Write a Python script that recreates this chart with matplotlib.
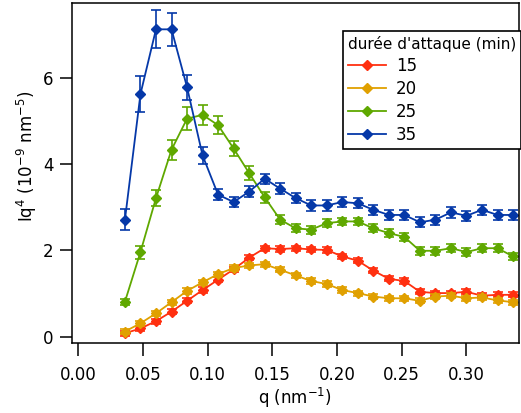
import matplotlib
matplotlib.use("Agg")
import matplotlib.pyplot as plt

plt.rcParams.update({
    "font.family": "DejaVu Sans",
    "font.size": 12,
    "mathtext.default": "regular",
})

# q values (nm^-1)
q = [0.036, 0.048, 0.060, 0.072, 0.084, 0.096, 0.108, 0.120, 0.132, 0.144,
     0.156, 0.168, 0.180, 0.192, 0.204, 0.216, 0.228, 0.240, 0.252, 0.264,
     0.276, 0.288, 0.300, 0.312, 0.324, 0.336]

# Iq^4 (10^-9 nm^-5) for each etching time
iq4_15 = [0.08, 0.19, 0.36, 0.58, 0.83, 1.08, 1.32, 1.56, 1.83, 2.05,
          2.03, 2.05, 2.02, 2.01, 1.86, 1.76, 1.53, 1.34, 1.29, 1.04,
          1.01, 1.01, 1.04, 0.95, 0.97, 0.97]
iq4_20 = [0.12, 0.31, 0.54, 0.80, 1.06, 1.26, 1.45, 1.59, 1.65, 1.68,
          1.55, 1.42, 1.29, 1.22, 1.08, 1.01, 0.93, 0.89, 0.89, 0.83,
          0.93, 0.95, 0.89, 0.91, 0.84, 0.80]
iq4_25 = [0.81, 1.96, 3.21, 4.33, 5.05, 5.14, 4.90, 4.36, 3.79, 3.23,
          2.71, 2.51, 2.48, 2.63, 2.67, 2.67, 2.51, 2.40, 2.31, 1.99,
          1.99, 2.05, 1.96, 2.05, 2.05, 1.86]
iq4_35 = [2.71, 5.62, 7.12, 7.12, 5.78, 4.20, 3.29, 3.12, 3.36, 3.66,
          3.43, 3.21, 3.04, 3.04, 3.12, 3.09, 2.94, 2.82, 2.82, 2.65,
          2.71, 2.88, 2.80, 2.94, 2.82, 2.82]

err_15 = [0.06] * 26
err_20 = [0.06] * 26
err_25 = [0.07, 0.15, 0.19, 0.23, 0.26, 0.23, 0.21, 0.18, 0.16, 0.13,
          0.10, 0.09, 0.09, 0.09, 0.09, 0.09, 0.09, 0.09, 0.09, 0.09,
          0.09, 0.09, 0.09, 0.09, 0.09, 0.09]
err_35 = [0.25, 0.41, 0.44, 0.38, 0.29, 0.20, 0.12, 0.11, 0.12, 0.12,
          0.12, 0.12, 0.12, 0.12, 0.12, 0.12, 0.12, 0.12, 0.12, 0.12,
          0.12, 0.12, 0.12, 0.12, 0.12, 0.12]

labels = ["15", "20", "25", "35"]
colors = ["#FF3010", "#E0A000", "#5FA800", "#0538A8"]
series = [iq4_15, iq4_20, iq4_25, iq4_35]
errors = [err_15, err_20, err_25, err_35]

fig = plt.figure(figsize=(5.21, 4.13), dpi=100)
ax = fig.add_axes([71.5 / 521, (413 - 343.3) / 413, (519 - 71.5) / 521, (343.3 - 3) / 413])

handles = []
for y, e, c, lab in zip(series, errors, colors, labels):
    ax.errorbar(q, y, yerr=e, fmt="none", ecolor=c, elinewidth=1.2,
                capsize=3.5, capthick=1.2)
    ln, = ax.plot(q, y, color=c, lw=1.3, marker="D", ms=5.5, label=lab)
    handles.append(ln)

ax.set_xlim(-0.0053, 0.3406)
ax.set_ylim(-0.153, 7.73)
ax.set_xticks([0.00, 0.05, 0.10, 0.15, 0.20, 0.25, 0.30])
ax.set_xticklabels(["0.00", "0.05", "0.10", "0.15", "0.20", "0.25", "0.30"])
ax.set_yticks([0, 2, 4, 6])
ax.tick_params(axis="both", direction="out", length=9, width=1.1, color="black")
ax.tick_params(axis="x", pad=7)
ax.tick_params(axis="y", pad=4)
for s in ax.spines.values():
    s.set_linewidth(1.1)

ax.set_xlabel("q (nm$^{-1}$)", labelpad=2)
ax.set_ylabel("Iq$^{4}$ (10$^{-9}$ nm$^{-5}$)")
ax.yaxis.set_label_coords(-0.072, 0.55)

leg = ax.legend(handles=handles, title="durée d'attaque (min)", loc="upper right",
                bbox_to_anchor=(1.0045, 0.9177), borderaxespad=0, fancybox=False,
                edgecolor="black", framealpha=1, fontsize=12, title_fontsize=11,
                alignment="left", handlelength=2.3, labelspacing=0.3,
                borderpad=0.3, handletextpad=0.6)
leg.get_frame().set_linewidth(1.2)

fig.savefig("out.png", dpi=100)
